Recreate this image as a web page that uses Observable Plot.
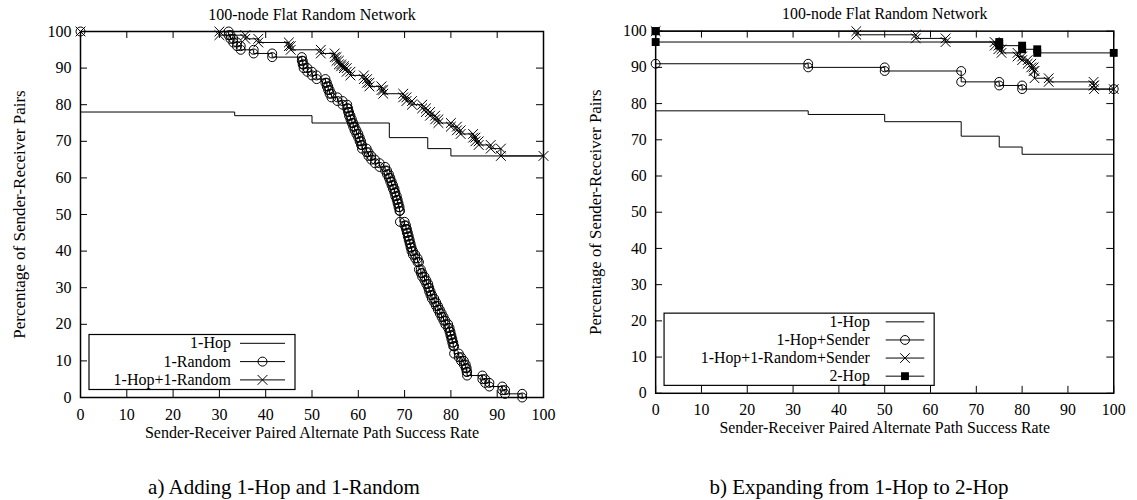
<!DOCTYPE html>
<html><head><meta charset="utf-8">
<script src="https://cdn.jsdelivr.net/npm/d3@7"></script>
<script src="https://cdn.jsdelivr.net/npm/@observablehq/plot@0.6"></script>
<style>
body{margin:0;background:#fff;width:1137px;height:500px;overflow:hidden;position:relative;font-family:"Liberation Serif",serif;color:#000;}
.panel{position:absolute;top:0;}
.cap{position:absolute;top:475px;font-size:21px;width:400px;text-align:center;line-height:24px;white-space:nowrap;}
</style></head><body>
<div id="pa" class="panel" style="left:0"></div>
<div id="pb" class="panel" style="left:576px"></div>
<div class="cap" style="left:84px">a) Adding 1-Hop and 1-Random</div>
<div class="cap" style="left:659px">b) Expanding from 1-Hop to 2-Hop</div>
<script>
// ---- text ----
const chartTitle = "100-node Flat Random Network";
const xTitle = "Sender-Receiver Paired Alternate Path Success Rate";
const yTitle = "Percentage of Sender-Receiver Pairs";
const xTicks = [0, 10, 20, 30, 40, 50, 60, 70, 80, 90, 100];
const yTicks = [0, 10, 20, 30, 40, 50, 60, 70, 80, 90, 100];

// ---- series (step breakpoints: from x on, the percentage is y) ----
const hop1X = [0, 33.3, 50, 66.7, 75, 80, 100];
const hop1Y = [78, 77, 75, 71, 68, 66, 66];

const rand1X = [0, 32, 32.4, 33, 33.8, 34.6, 37.4, 41.4, 47.8, 48, 48.2, 49, 50, 51, 52.9, 53.2, 53.5, 53.8, 54.2, 55.5, 56.6, 57.6, 57.8, 58, 58.3, 58.6, 58.9, 59.2, 59.6, 60, 60.3, 60.6, 60.8, 61.8, 62.2, 62.8, 63.6, 64.6, 65.8, 66.2, 66.6, 66.9, 67.2, 67.5, 67.8, 68, 68.3, 68.5, 68.7, 68.9, 69, 70, 70.3, 70.5, 70.7, 70.9, 71.1, 71.3, 71.5, 71.8, 72.3, 72.8, 73.1, 73.5, 73.8, 74.3, 74.7, 75.1, 75.3, 75.6, 75.9, 76.4, 76.8, 77.2, 77.6, 78, 78.4, 78.8, 79.4, 79.7, 79.9, 80.1, 80.3, 80.5, 80.7, 81.7, 82.2, 82.8, 83.2, 83.4, 83.5, 86.8, 87.4, 88.3, 91.1, 91.7, 95.4];
const rand1Y = [100, 99, 98, 97, 96, 95, 94, 93, 92, 91, 90, 89, 88, 87, 86, 85, 84, 83, 82, 81, 80, 79, 78, 77, 76, 75, 74, 73, 72, 71, 70, 69, 68, 67, 66, 65, 64, 63, 62, 61, 60, 59, 58, 57, 56, 55, 54, 53, 52, 51, 48, 47, 46, 45, 44, 43, 42, 41, 40, 39, 38, 37, 35, 34, 33, 32, 31, 30, 29, 28, 27, 26, 25, 24, 23, 22, 21, 20, 19, 18, 17, 16, 15, 14, 12, 11, 10, 9, 8, 7, 6, 5, 4, 3, 2, 1, 0];

const hopRandX = [0, 30, 35.6, 38.4, 45, 45.4, 51.9, 54.9, 55.3, 55.8, 56.3, 56.9, 57.5, 58.3, 61.2, 61.9, 62.4, 65, 65.4, 69.7, 70.4, 71.6, 73.8, 74.6, 75.5, 76.6, 77.3, 80, 81.3, 82.1, 84.8, 85.3, 86, 88.6, 90.8, 100];
const hopRandY = [100, 99, 98, 97, 96, 95, 94, 93, 92, 91, 90.5, 90, 89, 88, 87, 86, 85, 84, 83, 82, 81, 80, 79, 78, 77, 76, 75, 74, 73, 72, 71, 70, 69, 68, 66, 66];

const hopSendX = [0, 33.3, 50, 66.7, 75, 80, 100];
const hopSendY = [91, 90, 89, 86, 85, 84, 84];

const hopRandSendX = [0, 43.8, 56.8, 63.3, 74, 74.8, 75.5, 79, 80, 81.2, 82, 82.5, 82.7, 85.8, 95.6, 95.7, 100];
const hopRandSendY = [100, 99, 98, 97, 96, 95, 94, 93, 92, 91, 90, 89, 87, 86, 85, 84, 84];

const hop2X = [0, 0, 75, 80, 83.3, 100];
const hop2Y = [100, 97, 96, 95, 94, 94];

const labelsA = ["1-Hop", "1-Random", "1-Hop+1-Random"];
const labelsB = ["1-Hop", "1-Hop+Sender", "1-Hop+1-Random+Sender", "2-Hop"];

// ---- helpers ----
function rows(xs, ys) { return xs.map((x, i) => ({x, y: ys[i]})); }
function corners(xs, ys) {
  const pts = [{x: xs[0], y: ys[0]}];
  for (let i = 1; i < xs.length; i++) {
    if (ys[i] !== ys[i - 1]) pts.push({x: xs[i], y: ys[i - 1]});
    pts.push({x: xs[i], y: ys[i]});
  }
  return pts;
}

const W = 567, H = 445, ML = 80, MR = 24, MT = 31, MB = 48;
const FW = W - ML - MR, FH = H - MT - MB;
const styles = {
  none: null,
  circle: {symbol: "circle", r: 4.5, fill: "none", stroke: "black", strokeWidth: 1},
  times: {symbol: "times", r: 4.5, fill: "none", stroke: "black", strokeWidth: 1},
  square: {symbol: "square", r: 4.5, fill: "black", stroke: "none"}
};

function panel(el, series, lg) {
  const marks = [
    Plot.tickX(xTicks, {x: d => d, insetTop: FH - 7, stroke: "black"}),
    Plot.tickX(xTicks, {x: d => d, insetBottom: FH - 7, stroke: "black"}),
    Plot.tickY(yTicks, {y: d => d, insetRight: FW - 7, stroke: "black"}),
    Plot.tickY(yTicks, {y: d => d, insetLeft: FW - 7, stroke: "black"}),
    Plot.axisX(xTicks, {tickSize: 0, tickPadding: 11, label: null, fontSize: 16}),
    Plot.axisY(yTicks, {tickSize: 0, tickPadding: 9, label: null, fontSize: 16})
  ];
  for (const s of series) {
    marks.push(Plot.line(rows(s.x, s.y), {x: "x", y: "y", curve: "step-after", stroke: "black", strokeWidth: 1}));
    const st = styles[s.mark];
    if (st) marks.push(Plot.dot(corners(s.x, s.y), {x: "x", y: "y", ...st}));
  }
  marks.push(Plot.frame({stroke: "black", strokeWidth: 1.5}));
  marks.push(Plot.text([chartTitle], {text: d => d, frameAnchor: "top", lineAnchor: "middle", dy: -17, fontSize: 16}));
  marks.push(Plot.text([xTitle], {text: d => d, frameAnchor: "bottom", lineAnchor: "middle", dy: 35, fontSize: 16}));
  marks.push(Plot.text([yTitle], {text: d => d, frameAnchor: "left", textAnchor: "middle", lineAnchor: "middle", dx: -61, rotate: -90, fontSize: 17}));

  const svg = Plot.plot({
    width: W, height: H, marginLeft: ML, marginRight: MR, marginTop: MT, marginBottom: MB,
    x: {domain: [0, 100], label: null, axis: null},
    y: {domain: [0, 100], label: null, axis: null},
    style: {fontFamily: "Liberation Serif", fontSize: "16px", color: "black", background: "white", overflow: "visible"},
    marks
  });

  // legend
  const g = d3.select(svg).append("g")
    .attr("transform", `translate(${ML + 9},${MT + FH - 7.5 - lg.h})`);
  g.append("rect").attr("width", lg.w).attr("height", lg.h)
    .attr("fill", "white").attr("stroke", "black").attr("stroke-width", 1.2);
  series.forEach((s, i) => {
    const cy = 8.8 + i * 18.3;
    g.append("text").attr("x", lg.textRight).attr("y", cy).attr("dy", "0.32em")
      .attr("text-anchor", "end").attr("font-family", "Liberation Serif").attr("font-size", 16)
      .attr("fill", "black").text(s.label);
    g.append("line").attr("x1", lg.lineX1).attr("x2", lg.lineX2).attr("y1", cy).attr("y2", cy)
      .attr("stroke", "black").attr("stroke-width", 1);
    const st = styles[s.mark];
    if (st) {
      const sym = {circle: d3.symbolCircle, times: d3.symbolTimes, square: d3.symbolSquare}[st.symbol];
      g.append("path").attr("d", d3.symbol(sym, Math.PI * st.r * st.r)())
        .attr("transform", `translate(${(lg.lineX1 + lg.lineX2) / 2},${cy})`)
        .attr("fill", st.fill).attr("stroke", st.stroke).attr("stroke-width", 1);
    }
  });
  document.getElementById(el).appendChild(svg);
}

panel("pa", [
  {label: labelsA[0], x: hop1X, y: hop1Y, mark: "none"},
  {label: labelsA[1], x: rand1X, y: rand1Y, mark: "circle"},
  {label: labelsA[2], x: hopRandX, y: hopRandY, mark: "times"}
], {w: 206, h: 55, textRight: 142, lineX1: 151, lineX2: 196});

panel("pb", [
  {label: labelsB[0], x: hop1X, y: hop1Y, mark: "none"},
  {label: labelsB[1], x: hopSendX, y: hopSendY, mark: "circle"},
  {label: labelsB[2], x: hopRandSendX, y: hopRandSendY, mark: "times"},
  {label: labelsB[3], x: hop2X, y: hop2Y, mark: "square"}
], {w: 273, h: 73, textRight: 208, lineX1: 224, lineX2: 263});
</script>
</body></html>
